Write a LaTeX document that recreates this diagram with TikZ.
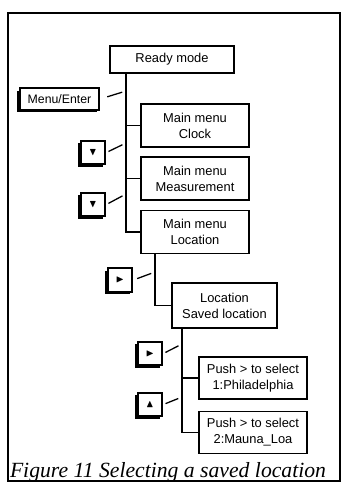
\documentclass[tikz,border=0pt]{standalone}
\usepackage{fontspec}
\setmainfont{Liberation Serif}
\setsansfont{Liberation Sans}
\usepackage{amssymb}
\usetikzlibrary{shadows}

\begin{document}
\begin{tikzpicture}[x=0.3mm,y=-0.3mm]
        \useasboundingbox (0,0) rectangle (342,482);
        \tikzstyle{box} = [draw,line width=1pt,align=center,inner sep=0pt,font=\sffamily\fontsize{11}{13.5}\selectfont]
        \tikzstyle{key} = [draw,line width=1.8pt,fill=white,inner sep=0pt,minimum width=7.4mm,minimum height=7mm,drop shadow={shadow xshift=-0.7mm,shadow yshift=-0.7mm,fill=black,opacity=1}]
        \tikzstyle{trunk} = [line width=1.6pt]
        \tikzstyle{push} = [line width=1.1pt,shorten <=0.7mm,shorten >=1.2mm]
        \draw[line width=1.2pt] (8,13) rectangle (340,481);
        \node[box,minimum width=37.2mm,minimum height=8.1mm] (ready) at (172,59.5) {Ready mode};
        \node[box,minimum width=32.4mm,minimum height=12.9mm] (clock) at (195,125.5) {Main menu\\Clock};
        \node[box,minimum width=32.4mm,minimum height=12.9mm] (meas) at (195,178.5) {Main menu\\Measurement};
        \node[box,minimum width=32.4mm,minimum height=12.9mm] (loc) at (195,232) {Main menu\\Location};
        \node[box,minimum width=31.5mm,minimum height=13.5mm] (saved) at (224.5,305.5) {Location\\Saved location};
        \node[box,minimum width=32.4mm,minimum height=12.6mm] (phila) at (253,378) {Push > to select\\1:Philadelphia};
        \node[box,minimum width=32.4mm,minimum height=12.6mm] (mauna) at (253,432.5) {Push > to select\\2:Mauna\_Loa};
        \node[key,minimum width=23.8mm,minimum height=6.4mm,font=\sffamily\fontsize{10.5}{12}\selectfont] (kMenu) at (59.5,99) {Menu/Enter};
        \node[key] (kDown1) at (93,152.5) {\small$\blacktriangledown$};
        \node[key] (kDown2) at (93,204.5) {\small$\blacktriangledown$};
        \node[key] (kRight1) at (120,280) {\small$\blacktriangleright$};
        \node[key] (kRight2) at (150,353.5) {\small$\blacktriangleright$};
        \node[key] (kUp) at (150,404.5) {\small$\blacktriangle$};
        \coordinate (t1) at (126,0);
        \coordinate (t2) at (155,0);
        \coordinate (t3) at (182,0);
        \draw[trunk] (ready.south -| t1) |- (loc.west);
        \draw[trunk] (clock.west -| t1) -- (clock.west);
        \draw[trunk] (meas.west -| t1) -- (meas.west);
        \draw[trunk] (loc.south -| t2) |- (saved.west);
        \draw[trunk] (saved.south -| t3) |- (mauna.west);
        \draw[trunk] (phila.west -| t3) -- (phila.west);
        \coordinate (p1) at (126,91);
        \coordinate (p2) at (126,143);
        \coordinate (p3) at (126,194);
        \coordinate (p4) at (155,272);
        \coordinate (p5) at (182,344);
        \coordinate (p6) at (182,397);
        \draw[push,shorten <=2.2mm] (kMenu.east) -- (p1);
        \draw[push] (kDown1.east) -- (p2);
        \draw[push] (kDown2.east) -- (p3);
        \draw[push,shorten <=1.2mm] (kRight1.east) -- (p4);
        \draw[push] (kRight2.east) -- (p5);
        \draw[push] (kUp.east) -- (p6);
        \node[anchor=base,inner sep=0pt,font=\itshape\fontsize{18.5}{20}\selectfont] (caption) at (168,477) {Figure 11 Selecting a saved location};
\end{tikzpicture}
\end{document}
